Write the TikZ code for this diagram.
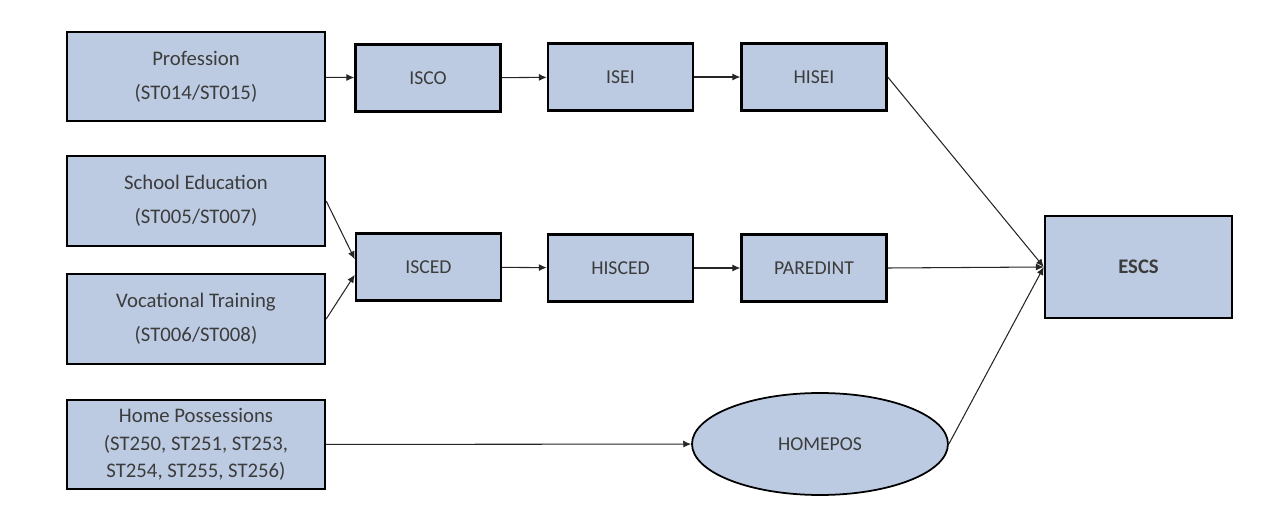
\documentclass[tikz,border=0pt]{standalone}
\usepackage{fontspec}
\setmainfont{Carlito}
\usepackage{tikz}
\usetikzlibrary{arrows.meta, shapes, positioning}
\definecolor{box_blue}{RGB}{188,203,226}
\definecolor{text_grey}{RGB}{60,60,60}

\begin{document}
\begin{tikzpicture}[x=0.02cm, y=-0.02cm, >={Latex[length=4.5pt, width=4pt]},
    box/.style={rectangle, draw=black, line width=1.4pt, fill=box_blue, text=text_grey, align=center, inner sep=0pt, font=\fontsize{11.8}{19.5}\selectfont},
    bigbox/.style={box, minimum width=5.16cm, minimum height=1.79cm},
    smallbox/.style={box, minimum width=2.9cm, minimum height=1.34cm, font=\fontsize{11.2}{14}\selectfont},
    link/.style={->, line width=0.6pt, black!85}]
      \useasboundingbox (0,0) rectangle (1282,530);
      \node[bigbox] (prof) at (196,76.5) {Profession\\(ST014/ST015)};
      \node[bigbox] (school) at (196,201) {School Education\\(ST005/ST007)};
      \node[bigbox] (voc) at (196,319) {Vocational Training\\(ST006/ST008)};
      \node[bigbox, font=\fontsize{11.8}{15.5}\selectfont] (home) at (196,444.5) {Home Possessions\\(ST250, ST251, ST253,\\ST254, ST255, ST256)};
      \node[smallbox] (isco) at (428,78) {ISCO};
      \node[smallbox] (isei) at (620.5,77) {ISEI};
      \node[smallbox] (hisei) at (814,77) {HISEI};
      \node[smallbox] (isced) at (428.5,267) {ISCED};
      \node[smallbox] (hisced) at (620.5,268) {HISCED};
      \node[smallbox] (paredint) at (814,268) {PAREDINT};
      \node[box, minimum width=3.74cm, minimum height=2.04cm, font=\fontsize{11.8}{14}\selectfont\bfseries] (escs) at (1138.5,267) {ESCS};
      \node[ellipse, draw=black, line width=1pt, fill=box_blue, text=text_grey, minimum width=5.12cm, minimum height=2.04cm, inner sep=0pt, font=\fontsize{11.2}{14}\selectfont] (homepos) at (820,444) {HOMEPOS};
      \draw[link] (prof) -- (isco);
      \draw[link] (isco) -- (isei);
      \draw[link] (isei) -- (hisei);
      \draw[link] (school.east) -- (isced.174);
      \draw[link] (voc.east) -- (isced.186);
      \draw[link] (isced) -- (hisced);
      \draw[link] (hisced) -- (paredint);
      \draw[link] (home) -- (homepos);
      \draw[link] (hisei.east) -- (escs.west);
      \draw[link] (paredint.east) -- (escs.west);
      \draw[link] (homepos.east) -- (escs.west);
    \end{tikzpicture}
\end{document}
